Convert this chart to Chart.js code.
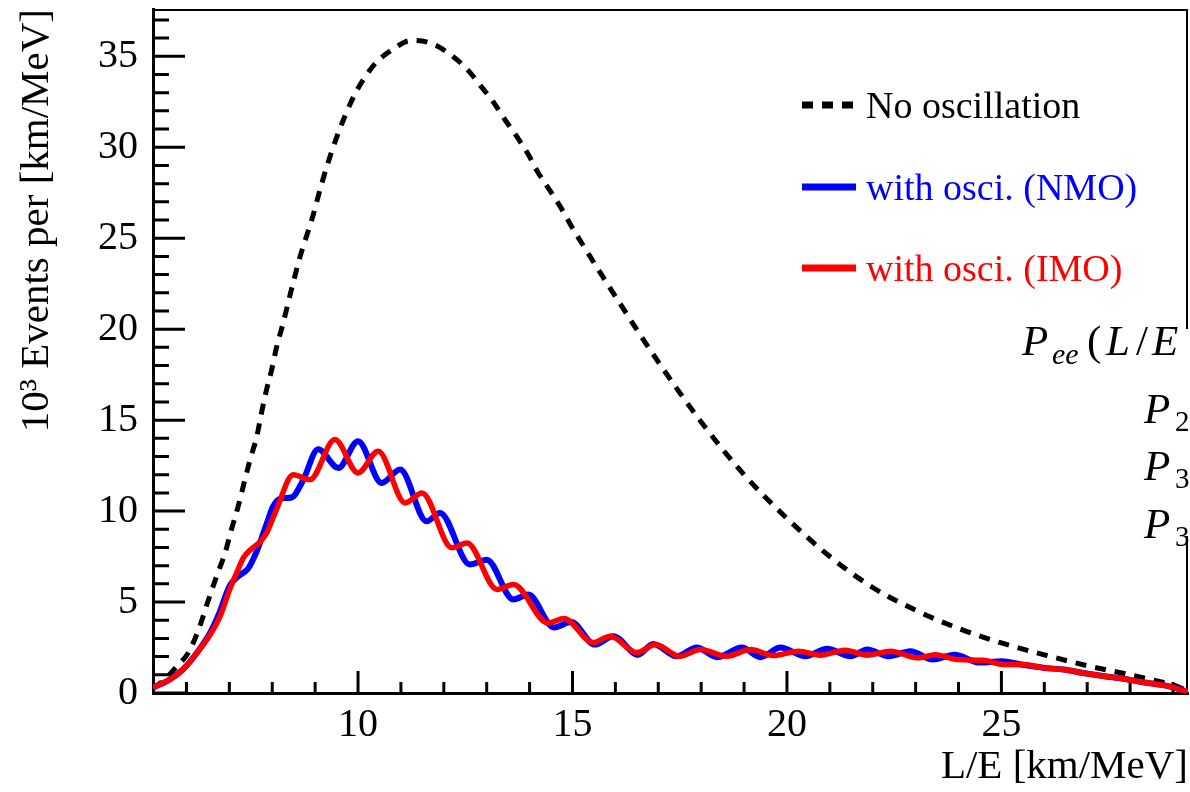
<!DOCTYPE html>
<html>
<head>
<meta charset="utf-8">
<title>Events vs L/E</title>
<script src="https://cdn.jsdelivr.net/npm/chart.js@4.4.1/dist/chart.umd.min.js"></script>
<style>
  html, body { margin: 0; padding: 0; background: #fff; }
  #wrap { width: 1190px; height: 792px; }
</style>
</head>
<body>
<div id="wrap"><canvas id="eventsChart"></canvas></div>
<script>
// values: x = L/E [km/MeV], y = 10^3 events per km/MeV
const noOscX = [5.22, 5.5, 5.75, 6.04, 6.27, 6.51, 6.7, 6.9, 7.05, 7.21, 7.36, 7.48, 7.64, 7.75, 7.87, 7.99, 8.1, 8.25, 8.45, 8.65,
  8.92, 9.19, 9.51, 9.88, 10.12, 10.42, 10.79, 11.24, 11.72, 12.15, 12.54, 12.85, 13.15, 13.43, 13.7, 13.97, 14.2, 14.48, 14.75, 14.99,
  15.25, 16.0, 17.0, 18.0, 19.0, 20.0, 21.0, 22.0, 23.0, 24.0, 25.0, 26.0, 27.0, 28.0, 28.7, 29.0, 29.35];
const noOscY = [0.25, 0.75, 1.4, 2.2, 3.4, 5.1, 6.4, 7.7, 9.0, 10.3, 11.7, 12.8, 14.1, 15.4, 16.7, 17.8, 19.0, 20.3, 22.2, 24.0,
  26.0, 28.3, 30.6, 32.7, 33.7, 34.65, 35.35, 35.87, 35.7, 35.1, 34.3, 33.4, 32.5, 31.5, 30.6, 29.6, 28.6, 27.6, 26.6, 25.6,
  24.6, 21.8, 18.2, 14.9, 12.0, 9.6, 7.5, 5.8, 4.55, 3.55, 2.75, 2.1, 1.5, 1.0, 0.62, 0.45, 0.1];

const nmoX = [5.22, 5.61, 5.92, 6.24, 6.55, 6.75, 7.01, 7.2, 7.32, 7.44, 7.64, 7.87, 8.02, 8.2, 8.45, 8.72, 9.07, 9.54, 10.0, 10.55,
  10.98, 11.6, 11.91, 12.61, 13.0, 13.62, 13.97, 14.57, 14.97, 15.52, 15.95, 16.53, 16.88, 17.43, 17.9, 18.37, 18.95, 19.38, 19.85, 20.43,
  20.94, 21.48, 21.87, 22.37, 22.88, 23.4, 23.9, 24.5, 25.0, 25.5, 26.0, 26.45, 26.9, 27.4, 27.85, 28.3, 28.78, 29.35];
const nmoY = [0.3, 0.74, 1.3, 2.2, 3.3, 4.3, 5.9, 6.4, 6.6, 6.85, 7.8, 9.3, 10.26, 10.7, 10.75, 11.7, 13.4, 12.37, 13.84, 11.55,
  12.28, 9.44, 9.9, 7.06, 7.33, 5.14, 5.41, 3.6, 3.9, 2.66, 3.12, 2.1, 2.7, 2.02, 2.5, 1.97, 2.5, 1.97, 2.5, 2.02,
  2.43, 2.02, 2.39, 2.02, 2.3, 1.84, 2.1, 1.67, 1.75, 1.55, 1.38, 1.29, 1.1, 0.92, 0.78, 0.59, 0.43, 0.08];

const imoX = [5.22, 5.61, 5.92, 6.24, 6.55, 6.78, 7.01, 7.17, 7.32, 7.48, 7.71, 7.87, 8.1, 8.49, 8.88, 9.46, 10.0, 10.47, 11.1, 11.49,
  12.19, 12.54, 13.24, 13.62, 14.43, 14.8, 15.48, 15.88, 16.5, 16.93, 17.51, 17.98, 18.6, 19.15, 19.68, 20.27, 20.78, 21.36, 21.87, 22.42,
  23.04, 23.46, 23.97, 24.58, 25.05, 25.5, 25.98, 26.45, 26.9, 27.4, 27.85, 28.3, 28.78, 29.35];
const imoY = [0.3, 0.74, 1.29, 2.2, 3.2, 4.2, 5.7, 6.6, 7.4, 7.85, 8.3, 8.8, 10.1, 12.0, 11.73, 13.93, 12.1, 13.29, 10.45, 11.0,
  7.98, 8.25, 5.69, 5.96, 3.85, 4.1, 2.77, 3.12, 2.22, 2.66, 2.02, 2.39, 2.02, 2.39, 2.06, 2.3, 2.08, 2.35, 2.08, 2.3,
  1.93, 2.1, 1.84, 1.8, 1.57, 1.57, 1.38, 1.29, 1.1, 0.92, 0.78, 0.59, 0.43, 0.08];

const xTickValues = [10, 15, 20, 25];
const yTickValues = [0, 5, 10, 15, 20, 25, 30, 35];

const serif = '"Liberation Serif", "Times New Roman", serif';

function points(xs, ys) {
  return xs.map((x, i) => ({ x: x, y: ys[i] }));
}

function noEdgePadding(s) {
  s.paddingTop = 0;
  s.paddingBottom = 0;
  s.paddingLeft = 0;
  s.paddingRight = 0;
}

// inner tick marks plus the top/right frame
const frameTicks = {
  id: 'frameTicks',
  beforeDatasetsDraw(chart) {
    const { ctx, chartArea: a, scales: { x, y } } = chart;
    ctx.save();
    ctx.strokeStyle = '#000';
    ctx.lineWidth = 3;
    ctx.beginPath();
    for (let v = Math.ceil(y.min); v <= y.max; v++) {
      const py = y.getPixelForValue(v);
      ctx.moveTo(a.left, py);
      ctx.lineTo(a.left + (v % 5 === 0 ? 32 : 16), py);
    }
    for (let v = Math.ceil(x.min); v <= x.max; v++) {
      const px = x.getPixelForValue(v);
      ctx.moveTo(px, a.bottom);
      ctx.lineTo(px, a.bottom - (v % 5 === 0 ? 22 : 11));
    }
    ctx.stroke();
    ctx.lineWidth = 2;
    ctx.beginPath();
    ctx.moveTo(a.left, a.top + 1);
    ctx.lineTo(a.right - 1, a.top + 1);
    ctx.lineTo(a.right - 1, a.bottom);
    ctx.stroke();
    ctx.restore();
  }
};

// legend inside the plot and the clipped formula text on the right
const overlay = {
  id: 'overlay',
  afterDraw(chart) {
    const ctx = chart.ctx;
    ctx.save();
    const rows = [105, 187, 268];
    chart.data.datasets.forEach((ds, i) => {
      const yy = rows[i];
      ctx.strokeStyle = ds.borderColor;
      ctx.lineWidth = 7;
      ctx.setLineDash(ds.borderDash || []);
      ctx.beginPath();
      ctx.moveTo(802, yy);
      ctx.lineTo(856, yy);
      ctx.stroke();
      ctx.setLineDash([]);
      ctx.fillStyle = ds.borderColor;
      ctx.font = '38px ' + serif;
      ctx.textBaseline = 'alphabetic';
      ctx.textAlign = 'left';
      ctx.fillText(ds.label, 866, yy + 13);
    });

    ctx.fillStyle = '#fff';
    ctx.fillRect(1176, 329, 14, 207);
    ctx.fillStyle = '#000';
    const it = 'italic 43px ' + serif;
    const up = '43px ' + serif;
    const sub = '29px ' + serif;
    ctx.font = it; ctx.fillText('P', 1022, 355);
    ctx.font = 'italic 30px ' + serif; ctx.fillText('ee', 1052, 364);
    ctx.font = up; ctx.fillText('(', 1087, 355);
    ctx.font = it; ctx.fillText('L', 1106, 355);
    ctx.font = up; ctx.fillText('/', 1136, 355);
    ctx.font = it; ctx.fillText('E', 1152, 355);
    [[423, '2'], [480, '3'], [538, '3']].forEach(([b, s]) => {
      ctx.font = it; ctx.fillText('P', 1144, b);
      ctx.font = sub; ctx.fillText(s, 1175, b + 8);
    });
    ctx.restore();
  }
};

const ctx = document.getElementById('eventsChart').getContext('2d');
new Chart(ctx, {
  type: 'line',
  data: {
    datasets: [
      {
        label: 'No oscillation',
        data: points(noOscX, noOscY),
        borderColor: '#000000',
        borderWidth: 5,
        borderDash: [11, 9],
        order: 3
      },
      {
        label: 'with osci. (NMO)',
        data: points(nmoX, nmoY),
        borderColor: '#0000ff',
        borderWidth: 6,
        order: 2
      },
      {
        label: 'with osci. (IMO)',
        data: points(imoX, imoY),
        borderColor: '#ff0000',
        borderWidth: 5.5,
        order: 1
      }
    ]
  },
  options: {
    responsive: true,
    maintainAspectRatio: false,
    animation: false,
    layout: { padding: { top: 9, right: 2, left: 0, bottom: 0 } },
    elements: {
      point: { radius: 0 },
      line: { cubicInterpolationMode: 'monotone', fill: false, borderCapStyle: 'butt' }
    },
    plugins: { legend: { display: false }, tooltip: { enabled: false } },
    scales: {
      x: {
        type: 'linear',
        min: 5.22,
        max: 29.35,
        afterBuildTicks: s => { s.ticks = xTickValues.map(v => ({ value: v })); },
        afterFit: s => { s.height = 99; noEdgePadding(s); },
        grid: { display: false, drawTicks: false },
        border: { display: true, color: '#000', width: 3 },
        ticks: { color: '#000', padding: 8, maxRotation: 0, font: { family: serif, size: 40 } },
        title: {
          display: true,
          text: 'L/E [km/MeV]',
          align: 'end',
          color: '#000',
          padding: { top: 0, bottom: 0 },
          font: { family: serif, size: 41 }
        }
      },
      y: {
        type: 'linear',
        min: 0,
        max: 37.6,
        afterBuildTicks: s => { s.ticks = yTickValues.map(v => ({ value: v })); },
        afterFit: s => { s.width = 153; noEdgePadding(s); },
        grid: { display: false, drawTicks: false },
        border: { display: true, color: '#000', width: 3 },
        ticks: { color: '#000', padding: 15, font: { family: serif, size: 40 } },
        title: {
          display: true,
          text: '10³ Events per [km/MeV]',
          align: 'end',
          color: '#000',
          padding: { top: 13, bottom: 0 },
          font: { family: serif, size: 41 }
        }
      }
    }
  },
  plugins: [frameTicks, overlay]
});
</script>
</body>
</html>
